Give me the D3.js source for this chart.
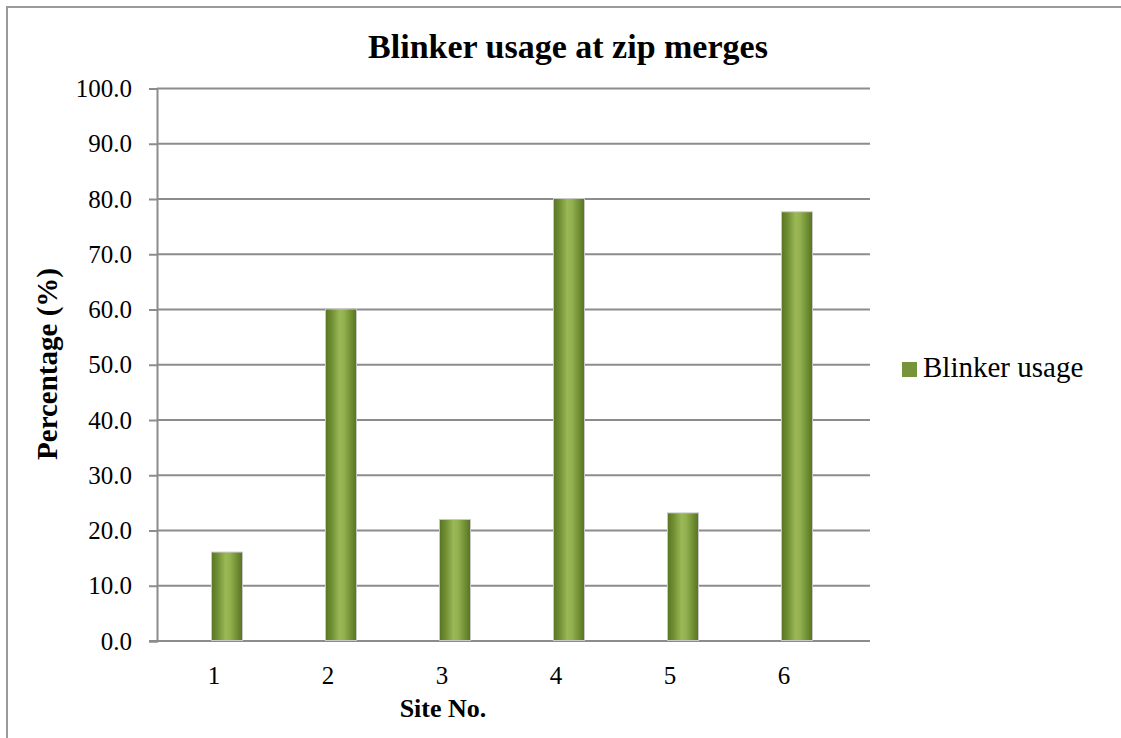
<!DOCTYPE html>
<html>
<head>
<meta charset="utf-8">
<script src="https://cdn.jsdelivr.net/npm/d3@7"></script>
<style>
  html, body { margin: 0; padding: 0; background: #fff; }
  svg { display: block; }
  text { font-family: "Liberation Serif", "DejaVu Serif", serif; fill: #000; }
</style>
</head>
<body>
<svg id="chart" width="1121" height="738"></svg>
<script>
// Chart data
const sites = ["1", "2", "3", "4", "5", "6"];
const blinkerUsage = [16.0, 60.0, 21.9, 80.0, 23.1, 77.6];
const yTicks = [0, 10, 20, 30, 40, 50, 60, 70, 80, 90, 100];
const seriesName = "Blinker usage";
const chartTitle = "Blinker usage at zip merges";
const xTitle = "Site No.";
const yTitle = "Percentage (%)";

const svg = d3.select("#chart");

// Outer frame
svg.append("rect")
  .attr("x", 7).attr("y", 7).attr("width", 1300).attr("height", 900)
  .attr("fill", "none").attr("stroke", "#9a9a9a").attr("stroke-width", 2);

// Bar gradient (cylindrical shading)
const defs = svg.append("defs");
const grad = defs.append("linearGradient").attr("id", "barGrad")
  .attr("x1", "0%").attr("x2", "100%").attr("y1", "0%").attr("y2", "0%");
[["0%", "#5b7625"], ["18%", "#6f8e32"], ["45%", "#9ab856"], ["60%", "#93b14f"], ["85%", "#6e8d31"], ["100%", "#5a7424"]]
  .forEach(([o, c]) => grad.append("stop").attr("offset", o).attr("stop-color", c));

const plotLeft = 157, plotRight = 870, plotTop = 88.5, plotBottom = 641;

const x = d3.scaleBand().domain(sites).range([plotLeft, 841]);
const y = d3.scaleLinear().domain([0, 100]).range([plotBottom, plotTop]);

// Gridlines
svg.append("g").selectAll("line").data(yTicks.filter(t => t > 0)).join("line")
  .attr("x1", plotLeft).attr("x2", plotRight)
  .attr("y1", d => y(d)).attr("y2", d => y(d))
  .attr("stroke", "#8c8c8c").attr("stroke-width", 2);

// Y axis
const yAxis = svg.append("g").attr("transform", `translate(${plotLeft},0)`)
  .call(d3.axisLeft(y).tickValues(yTicks).tickFormat(d3.format(".1f")).tickSize(8).tickPadding(17));
yAxis.select(".domain").attr("stroke", "#8c8c8c").attr("stroke-width", 2);
yAxis.selectAll(".tick line").attr("stroke", "#8c8c8c").attr("stroke-width", 2);
yAxis.selectAll(".tick text").attr("font-size", 25).attr("font-family", "Liberation Serif").attr("fill", "#000");

// X axis
const xAxis = svg.append("g").attr("transform", `translate(0,${plotBottom})`)
  .call(d3.axisBottom(x).tickSize(0));
xAxis.select(".domain").remove();
xAxis.selectAll(".tick text").attr("font-size", 25).attr("font-family", "Liberation Serif")
  .attr("fill", "#000").attr("y", 43).attr("dy", 0);
svg.append("line").attr("x1", plotLeft - 8).attr("x2", plotRight)
  .attr("y1", plotBottom).attr("y2", plotBottom)
  .attr("stroke", "#8c8c8c").attr("stroke-width", 2);

// Bars
const barW = 30, barShift = 13;
const bars = svg.append("g");
bars.selectAll("rect.shadow").data(blinkerUsage).join("rect")
  .attr("class", "shadow")
  .attr("x", (d, i) => x(sites[i]) + x.bandwidth() / 2 + barShift - barW / 2 - 1)
  .attr("y", d => y(d) - 1)
  .attr("width", barW + 2)
  .attr("height", d => plotBottom - y(d) + 1)
  .attr("fill", "#c8c8c8");
bars.selectAll("rect.bar").data(blinkerUsage).join("rect")
  .attr("class", "bar")
  .attr("x", (d, i) => x(sites[i]) + x.bandwidth() / 2 + barShift - barW / 2)
  .attr("y", d => y(d))
  .attr("width", barW)
  .attr("height", d => plotBottom - y(d) - 1)
  .attr("fill", "url(#barGrad)");

// Titles
svg.append("text").attr("x", 568).attr("y", 58).attr("text-anchor", "middle")
  .attr("font-size", 34).attr("font-weight", "bold").text(chartTitle);
svg.append("text").attr("x", 443).attr("y", 717).attr("text-anchor", "middle")
  .attr("font-size", 26).attr("font-weight", "bold").text(xTitle);
svg.append("text").attr("transform", "translate(57,364) rotate(-90)").attr("text-anchor", "middle")
  .attr("font-size", 29).attr("font-weight", "bold").text(yTitle);

// Legend
const legend = svg.append("g").attr("transform", "translate(902,362)");
legend.append("rect").attr("width", 15).attr("height", 15).attr("fill", "#77933c");
legend.append("text").attr("x", 21).attr("y", 15).attr("font-size", 29).text(seriesName);
</script>
</body>
</html>
